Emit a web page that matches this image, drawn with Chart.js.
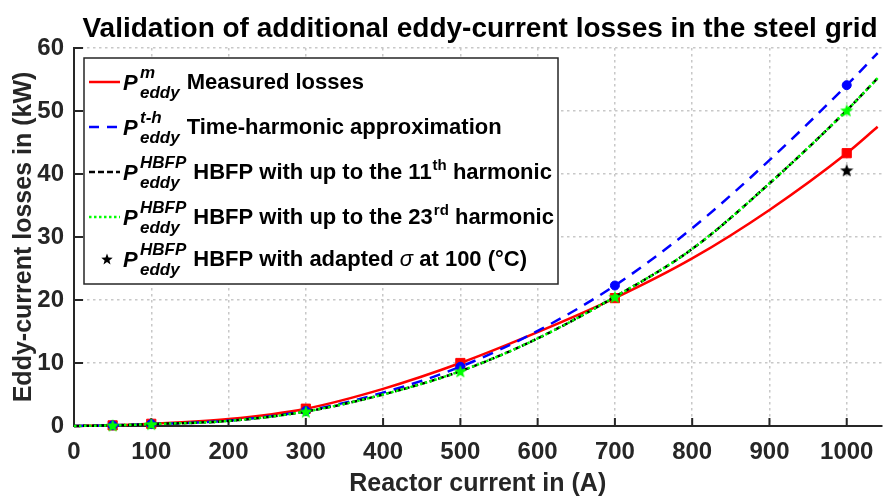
<!DOCTYPE html>
<html><head><meta charset="utf-8">
<script src="https://cdn.jsdelivr.net/npm/chart.js@4/dist/chart.umd.min.js"></script>
<style>html,body{margin:0;padding:0;background:#fff}#wrap{width:883px;height:496px;position:relative}</style>
</head><body><div id="wrap"><canvas id="c" width="883" height="496"></canvas></div>
<script>
// ---- data ----
const curveCurrents = [0, 50, 100, 200, 300, 400, 500, 600, 700, 800, 900, 1000, 1040];
const measuredCurve = [0, 0.1, 0.35, 1.1, 2.75, 5.9, 10.0, 14.9, 20.3, 26.6, 34.3, 43.3, 47.5];
const timeHarmonicCurve = [0, 0.1, 0.3, 0.85, 2.4, 5.3, 9.4, 15.1, 22.3, 31.4, 42.2, 54.1, 59.2];
const hbfp11Curve = [0, 0.1, 0.3, 0.8, 2.3, 5.0, 8.7, 13.9, 20.5, 28.1, 38.5, 50.1, 55.2];
const hbfp23Curve = [0, 0.1, 0.3, 0.8, 2.3, 5.0, 8.7, 13.9, 20.5, 28.1, 38.5, 50.1, 55.2];
const markerCurrents = [50, 100, 300, 500, 700, 1000];
const measuredPoints = [0.1, 0.35, 2.75, 10.0, 20.3, 43.3];
const timeHarmonicPoints = [0.1, 0.3, 2.4, 9.4, 22.3, 54.1];
const hbfp23Points = [0.1, 0.3, 2.3, 8.7, 20.5, 50.1];
const adaptedCurrents = [1000];
const adaptedPoints = [40.6];
const xTickValues = [0, 100, 200, 300, 400, 500, 600, 700, 800, 900, 1000];
const xTickLabels = ['0', '100', '200', '300', '400', '500', '600', '700', '800', '900', '1000'];
const yTickValues = [0, 10, 20, 30, 40, 50, 60];
const yTickLabels = ['0', '10', '20', '30', '40', '50', '60'];
const chartTitle = 'Validation of additional eddy-current losses in the steel grid';
const xTitle = 'Reactor current in (A)';
const yTitle = 'Eddy-current losses in (kW)';
const legendSup = ['m', 't-h', 'HBFP', 'HBFP', 'HBFP'];
const legendSub = 'eddy';
const legendText = [
  ['Measured losses'],
  ['Time-harmonic approximation'],
  ['HBFP with up to the 11', 'th', ' harmonic'],
  ['HBFP with up to the 23', 'rd', ' harmonic'],
  ['HBFP with adapted ', 'σ', ' at 100 (°C)']
];

const FONT = '"Liberation Sans", Arial, Helvetica, sans-serif';
const AX = '#262626';
const RED = '#ff0000', BLUE = '#0000ff', GREEN = '#00ff00';

function pts(xs, ys) { return xs.map((x, i) => ({x: x, y: ys[i]})); }

function starImg(color, size) {
  const c = document.createElement('canvas');
  c.width = size; c.height = size;
  const g = c.getContext('2d');
  g.fillStyle = color;
  g.beginPath();
  for (let i = 0; i < 10; i++) {
    const r = (i % 2) ? size * 0.21 : size * 0.5;
    const a = -Math.PI / 2 + i * Math.PI / 5;
    g.lineTo(size / 2 + r * Math.cos(a), size / 2 + r * Math.sin(a) + size * 0.05);
  }
  g.closePath();
  g.fill();
  return c;
}
const greenStar = starImg(GREEN, 14);
const blackStar = starImg('#000000', 14);
const legendStar = starImg('#000000', 12);

const decorPlugin = {
  id: 'decor',
  beforeDatasetsDraw(chart) {
    const ctx = chart.ctx, xs = chart.scales.x, ys = chart.scales.y, a = chart.chartArea;
    ctx.save();
    ctx.strokeStyle = AX; ctx.lineWidth = 2;
    ctx.beginPath();
    xTickValues.forEach(v => { const p = xs.getPixelForValue(v); if (v > 0) { ctx.moveTo(p, a.bottom); ctx.lineTo(p, a.bottom - 8); } });
    yTickValues.forEach(v => { const p = ys.getPixelForValue(v); if (v > 0) { ctx.moveTo(a.left, p); ctx.lineTo(a.left + 9, p); } });
    ctx.stroke();
    ctx.restore();
  },
  afterDraw(chart) {
    const ctx = chart.ctx;
    ctx.save();
    // title
    ctx.fillStyle = '#000';
    ctx.font = 'bold 28px ' + FONT;
    ctx.textAlign = 'center'; ctx.textBaseline = 'alphabetic';
    ctx.fillText(chartTitle, 480, 37);
    // legend box
    const L = 84, T = 58, R = 558, B = 284;
    ctx.fillStyle = '#fff';
    ctx.fillRect(L, T, R - L, B - T);
    ctx.strokeStyle = AX; ctx.lineWidth = 1.5;
    ctx.strokeRect(L, T, R - L, B - T);
    const centers = [82, 127, 172, 217, 259];
    const samples = [
      {color: RED, dash: [], w: 2.5},
      {color: BLUE, dash: [10, 8], w: 2.5},
      {color: '#000', dash: [6, 3], w: 2.5},
      {color: GREEN, dash: [2.5, 2.5], w: 2.5},
      null
    ];
    for (let i = 0; i < 5; i++) {
      const c = centers[i];
      ctx.textAlign = 'left';
      const s = samples[i];
      if (s) {
        ctx.save();
        ctx.strokeStyle = s.color; ctx.lineWidth = s.w; ctx.setLineDash(s.dash);
        ctx.beginPath(); ctx.moveTo(89, c); ctx.lineTo(120, c); ctx.stroke();
        ctx.restore();
      } else {
        ctx.drawImage(legendStar, 107 - 6, c - 6);
      }
      ctx.fillStyle = '#000';
      ctx.font = 'italic bold 22px ' + FONT;
      ctx.fillText('P', 123, c + 8);
      ctx.font = 'italic bold 17px ' + FONT;
      ctx.fillText(legendSup[i], 140, c - 4);
      ctx.fillText(legendSub, 140, c + 16);
      const w = Math.max(ctx.measureText(legendSup[i]).width, ctx.measureText(legendSub).width);
      let x = 140 + w + 7;
      const parts = legendText[i];
      ctx.font = 'bold 22px ' + FONT;
      ctx.fillText(parts[0], x, c + 7);
      x += ctx.measureText(parts[0]).width;
      if (parts.length > 1) {
        if (i === 4) {
          ctx.font = 'italic 22px ' + FONT;
          ctx.fillText(parts[1], x, c + 7);
          x += ctx.measureText(parts[1]).width;
        } else {
          ctx.font = 'bold 15px ' + FONT;
          ctx.fillText(parts[1], x + 1, c - 2);
          x += ctx.measureText(parts[1]).width + 1;
        }
        ctx.font = 'bold 22px ' + FONT;
        ctx.fillText(parts[2], x, c + 7);
      }
    }
    ctx.restore();
  }
};

new Chart(document.getElementById('c'), {
  type: 'scatter',
  data: {
    datasets: [
      {label: 'HBFP 23 markers', data: pts(markerCurrents, hbfp23Points), pointStyle: greenStar, showLine: false, order: 0, clip: 10},
      {label: 'HBFP adapted', data: pts(adaptedCurrents, adaptedPoints), pointStyle: blackStar, showLine: false, order: 1, clip: 10},
      {label: 'HBFP 23', data: pts(curveCurrents, hbfp23Curve), showLine: true, borderColor: GREEN, borderWidth: 2.5, borderDash: [2.5, 2.5], pointRadius: 0, cubicInterpolationMode: 'monotone', order: 2, clip: 6},
      {label: 'HBFP 11', data: pts(curveCurrents, hbfp11Curve), showLine: true, borderColor: '#000', borderWidth: 2.5, borderDash: [6, 3], pointRadius: 0, cubicInterpolationMode: 'monotone', order: 3, clip: 6},
      {label: 'TH markers', data: pts(markerCurrents, timeHarmonicPoints), pointStyle: 'circle', pointRadius: 4.5, backgroundColor: BLUE, borderColor: BLUE, showLine: false, order: 4, clip: 10},
      {label: 'TH', data: pts(curveCurrents, timeHarmonicCurve), showLine: true, borderColor: BLUE, borderWidth: 2.5, borderDash: [11, 8], pointRadius: 0, cubicInterpolationMode: 'monotone', order: 5, clip: 6},
      {label: 'Measured markers', data: pts(markerCurrents, measuredPoints), pointStyle: 'rect', pointRadius: 6.5, backgroundColor: RED, borderColor: RED, showLine: false, order: 6, clip: 10},
      {label: 'Measured', data: pts(curveCurrents, measuredCurve), showLine: true, borderColor: RED, borderWidth: 2.5, pointRadius: 0, cubicInterpolationMode: 'monotone', order: 7, clip: 6}
    ]
  },
  options: {
    responsive: false,
    animation: false,
    devicePixelRatio: 1,
    layout: {autoPadding: false, padding: {top: 48, right: 1.5, left: 0, bottom: 0}},
    plugins: {legend: {display: false}, tooltip: {enabled: false}, title: {display: false}},
    elements: {point: {radius: 6, hoverRadius: 6}},
    scales: {
      x: {
        type: 'linear', min: 0, max: 1045,
        afterFit: s => { s.height = 70; s.paddingRight = 0; s.paddingLeft = 0; },
        afterBuildTicks: s => { s.ticks = xTickValues.map(v => ({value: v})); },
        ticks: {stepSize: 100, includeBounds: false, padding: 12, color: AX, font: {family: FONT, size: 24, weight: 'bold'},
          callback: v => { const i = xTickValues.indexOf(v); return i >= 0 ? xTickLabels[i] : ''; }},
        grid: {color: '#c8c8c8', lineWidth: 1.5, drawTicks: false},
        border: {display: true, color: AX, width: 2, dash: [2.5, 3.5]},
        title: {display: true, text: xTitle, color: AX, font: {family: FONT, size: 25, weight: 'bold'}, padding: {top: 0, bottom: -3}}
      },
      y: {
        type: 'linear', min: 0, max: 60,
        afterFit: s => { s.width = 74; },
        afterBuildTicks: s => { s.ticks = yTickValues.map(v => ({value: v})); },
        ticks: {stepSize: 10, padding: 10, color: AX, font: {family: FONT, size: 24, weight: 'bold'},
          callback: v => { const i = yTickValues.indexOf(v); return i >= 0 ? yTickLabels[i] : ''; }},
        grid: {color: '#c8c8c8', lineWidth: 1.5, drawTicks: false},
        border: {display: true, color: AX, width: 2, dash: [2.5, 3.5]},
        title: {display: true, text: yTitle, color: AX, font: {family: FONT, size: 25, weight: 'bold'}, padding: {top: 9, bottom: 0}}
      }
    }
  },
  plugins: [decorPlugin]
});
</script></body></html>
